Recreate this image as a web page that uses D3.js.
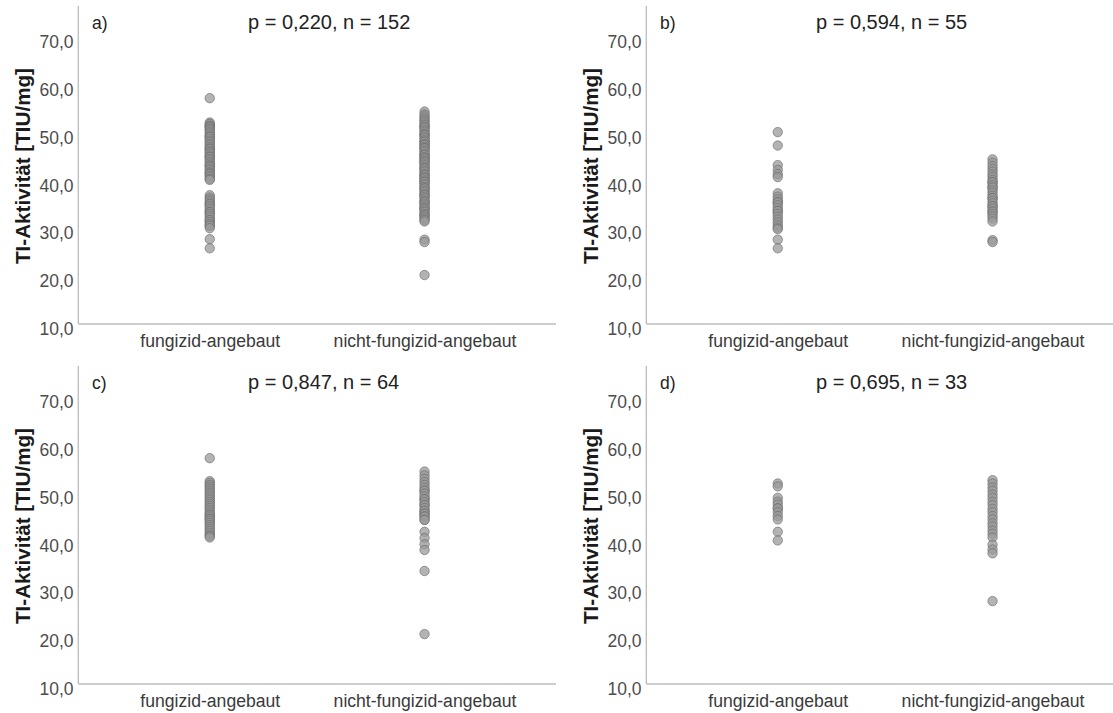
<!DOCTYPE html>
<html>
<head>
<meta charset="utf-8">
<script src="https://cdn.jsdelivr.net/npm/d3@7"></script>
<style>
  html, body { margin: 0; padding: 0; background: #fff; }
  svg { display: block; font-family: "Liberation Sans", Arial, sans-serif; }
</style>
</head>
<body>
<svg id="chart" width="1113" height="713"></svg>
<script>
// ---------------- data ----------------
const categories = ["fungizid-angebaut", "nicht-fungizid-angebaut"];
const yTicks = [10, 20, 30, 40, 50, 60, 70];
const panelLetters = ["a)", "b)", "c)", "d)"];
const pValues = ["0,220", "0,594", "0,847", "0,695"];
const nValues = [152, 55, 64, 33];
const yAxisTitle = "TI-Aktivität [TIU/mg]";

const aFungizid = [58.1, 53.0, 52.7, 52.3, 52.3, 52.0, 51.7, 51.4, 51.0, 50.7, 50.3, 50.0, 50.0, 49.6,
  49.2, 48.9, 48.5, 48.2, 47.8, 47.5, 47.5, 47.1, 46.8, 46.5, 46.1, 45.8, 45.8, 45.4, 45.1, 44.7,
  44.4, 44.0, 44.0, 43.7, 43.3, 43.0, 42.6, 42.3, 42.3, 41.9, 41.6, 41.2, 41.0, 37.8, 37.3, 36.9,
  36.5, 36.0, 36.0, 35.6, 35.2, 34.8, 34.3, 34.3, 33.9, 33.5, 33.1, 32.6, 32.6, 32.2, 31.8, 31.4,
  31.4, 30.9, 28.6, 26.7];
const aNicht = [55.3, 54.7, 54.3, 53.9, 53.5, 53.2, 52.8, 52.5, 52.1, 52.1, 51.8, 51.4, 51.1, 50.7,
  50.4, 50.4, 50.0, 49.7, 49.3, 49.0, 49.0, 48.6, 48.3, 48.3, 47.9, 47.6, 47.6, 47.2, 46.9, 46.5,
  46.2, 46.2, 45.8, 45.5, 45.5, 45.1, 44.8, 44.8, 44.4, 44.1, 43.7, 43.4, 43.4, 43.0, 42.7, 42.3,
  42.0, 42.0, 41.6, 41.3, 41.3, 40.9, 40.6, 40.6, 40.2, 39.9, 39.5, 39.2, 39.2, 38.8, 38.5, 38.1,
  37.8, 37.8, 37.4, 37.1, 36.7, 36.4, 36.4, 36.0, 35.7, 35.3, 35.0, 35.0, 34.6, 34.3, 33.9, 33.6,
  33.6, 33.2, 32.9, 32.6, 32.3, 28.5, 28.0, 21.1];
const bFungizid = [51.0, 48.2, 44.1, 43.1, 42.2, 41.6, 38.2, 37.5, 36.9, 36.3, 36.3, 35.7, 35.1,
  34.5, 34.5, 33.9, 33.3, 32.7, 32.1, 31.5, 31.0, 30.7, 28.5, 26.7];
const bNicht = [45.3, 44.6, 43.9, 43.3, 42.7, 42.1, 41.6, 41.0, 40.5, 40.5, 39.9, 39.4, 39.4, 38.8,
  38.3, 37.7, 37.2, 37.2, 36.6, 36.1, 35.5, 35.5, 35.0, 34.4, 34.4, 33.9, 33.4, 32.9, 32.3, 28.4, 28.0];
const cFungizid = [58.1, 53.3, 52.9, 52.5, 52.1, 51.7, 51.3, 50.9, 50.5, 50.1, 49.7, 49.3, 48.9,
  48.5, 48.1, 47.7, 47.3, 46.9, 46.5, 46.1, 46.1, 45.7, 45.3, 45.3, 44.9, 44.5, 44.1, 43.7, 43.3,
  42.9, 42.5, 42.1, 41.8, 41.5];
const cNicht = [55.3, 54.5, 53.8, 53.1, 52.5, 51.9, 51.3, 51.3, 50.7, 50.1, 49.5, 49.5, 48.9, 48.3,
  48.3, 47.7, 47.1, 47.1, 46.5, 46.5, 45.9, 45.9, 45.2, 45.2, 42.7, 41.4, 40.1, 38.9, 34.5, 21.3];
const dFungizid = [52.8, 52.2, 49.8, 49.0, 48.4, 47.6, 47.6, 46.8, 46.0, 45.3, 42.7, 40.9];
const dNicht = [53.5, 52.8, 52.0, 51.3, 50.5, 49.8, 49.0, 48.3, 47.5, 46.8, 46.0, 45.3, 44.5, 43.8,
  43.0, 42.3, 41.5, 40.0, 39.0, 38.2, 28.2];

const groups = [
  [aFungizid, aNicht],
  [bFungizid, bNicht],
  [cFungizid, cNicht],
  [dFungizid, dNicht]
];

// ---------------- layout ----------------
const svg = d3.select("#chart");
const axisX = 78.3, axisTop = 6, axisBottom = 324, axisRight = 556;
const y = d3.scaleLinear().domain([10, 70]).range([328.1, 41.3]);
const x = d3.scalePoint().domain(categories).range([axisX, axisRight]).padding(0.612);
const fmt = d => d.toFixed(1).replace(".", ",");

groups.forEach((grp, i) => {
  const ox = (i % 2) * 568, oy = Math.floor(i / 2) * 360;
  const g = svg.append("g").attr("transform", `translate(${ox},${oy})`);

  // axis lines
  g.append("line").attr("x1", axisX).attr("x2", axisX).attr("y1", axisTop).attr("y2", axisBottom)
    .attr("stroke", "#bcbcbc").attr("stroke-width", 1.3);
  g.append("line").attr("x1", axisX).attr("x2", axisRight).attr("y1", axisBottom).attr("y2", axisBottom)
    .attr("stroke", "#bcbcbc").attr("stroke-width", 1.3);

  // y ticks
  const ya = g.append("g").attr("transform", `translate(${axisX},0)`)
    .call(d3.axisLeft(y).tickValues(yTicks).tickSize(0).tickPadding(4.8).tickFormat(fmt));
  ya.select(".domain").remove();
  ya.selectAll("text").attr("font-size", 17.5).attr("fill", "#4d4d4d")
    .attr("font-family", "Liberation Sans, Arial, sans-serif").attr("dy", "0.36em");

  // x labels
  const xa = g.append("g").attr("transform", `translate(0,${axisBottom})`)
    .call(d3.axisBottom(x).tickSize(0).tickPadding(10.5));
  xa.select(".domain").remove();
  xa.selectAll("text").attr("font-size", 17.6).attr("fill", "#3a3a3a")
    .attr("font-family", "Liberation Sans, Arial, sans-serif");

  // y axis title
  g.append("text")
    .attr("transform", `translate(22.5,166) rotate(-90)`)
    .attr("text-anchor", "middle").attr("dominant-baseline", "central")
    .attr("font-size", 19.5).attr("font-weight", "bold").attr("fill", "#1a1a1a")
    .attr("textLength", 196).attr("lengthAdjust", "spacingAndGlyphs")
    .text(yAxisTitle);

  // panel letter and title
  g.append("text").attr("x", 92).attr("y", 28.5).attr("font-size", 17.5).attr("fill", "#222")
    .text(panelLetters[i]);
  g.append("text").attr("x", 248).attr("y", 29).attr("font-size", 20).attr("fill", "#222")
    .text(`p = ${pValues[i]}, n = ${nValues[i]}`);

  // dots
  grp.forEach((vals, k) => {
    g.append("g").selectAll("circle").data(vals).join("circle")
      .attr("cx", x(categories[k]))
      .attr("cy", d => y(d))
      .attr("r", 4.7)
      .attr("fill", "#999").attr("fill-opacity", 0.75)
      .attr("stroke", "#666").attr("stroke-opacity", 0.6).attr("stroke-width", 1);
  });
});
</script>
</body>
</html>
